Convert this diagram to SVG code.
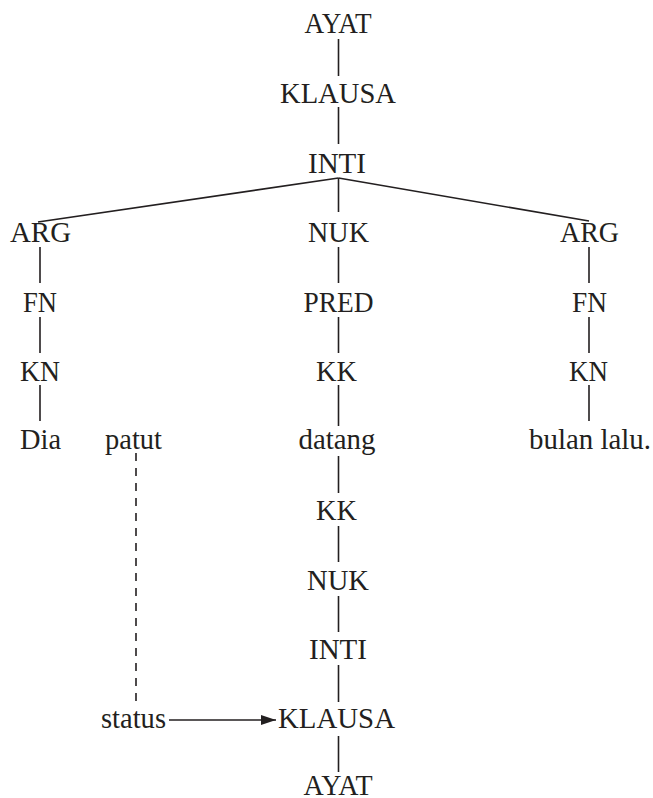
<svg xmlns="http://www.w3.org/2000/svg" width="653" height="798" viewBox="0 0 653 798">
  <style>
    .edge { stroke: #231f20; stroke-width: 1.6; fill: none; }
    .dash { stroke: #231f20; stroke-width: 1.6; fill: none; stroke-dasharray: 8 7; }
  </style>
  <defs>
    <marker id="arrowhead" viewBox="0 0 15 10" refX="15" refY="5" markerWidth="15" markerHeight="10" markerUnits="userSpaceOnUse" orient="auto">
      <path d="M0,0 L15,5 L0,10 Z" fill="#231f20"/>
    </marker>
  </defs>
  <rect width="653" height="798" fill="#ffffff"/>

  <g id="connectors">
    <!-- centre column -->
    <line class="edge" x1="338.5" y1="39" x2="338.5" y2="76"/>
    <line class="edge" x1="338.5" y1="107" x2="338.5" y2="144"/>
    <line class="edge" x1="338.5" y1="178" x2="38" y2="222"/>
    <line class="edge" x1="338.5" y1="178" x2="589" y2="221"/>
    <line class="edge" x1="338.5" y1="178" x2="338.5" y2="212"/>
    <line class="edge" x1="338.5" y1="247" x2="338.5" y2="283"/>
    <line class="edge" x1="338.5" y1="317" x2="338.5" y2="353"/>
    <line class="edge" x1="338.5" y1="385" x2="338.5" y2="426"/>
    <line class="edge" x1="338.5" y1="456" x2="338.5" y2="493"/>
    <line class="edge" x1="338.5" y1="526" x2="338.5" y2="562"/>
    <line class="edge" x1="338.5" y1="596" x2="338.5" y2="632"/>
    <line class="edge" x1="338.5" y1="665" x2="338.5" y2="702"/>
    <line class="edge" x1="338.5" y1="736" x2="338.5" y2="772"/>
    <!-- left column -->
    <line class="edge" x1="40" y1="247" x2="40" y2="283"/>
    <line class="edge" x1="40" y1="317" x2="40" y2="353"/>
    <line class="edge" x1="40" y1="385" x2="40" y2="421"/>
    <!-- right column -->
    <line class="edge" x1="589" y1="247" x2="589" y2="283"/>
    <line class="edge" x1="589" y1="317" x2="589" y2="353"/>
    <line class="edge" x1="589" y1="385" x2="589" y2="421"/>
    <!-- patut to status, status to KLAUSA -->
    <line class="dash" x1="136" y1="453" x2="136" y2="708"/>
    <line class="edge" x1="169" y1="720" x2="276" y2="720" marker-end="url(#arrowhead)"/>
  </g>

  <g font-family="Liberation Serif" font-size="29" fill="#231f20" text-anchor="middle" lengthAdjust="spacingAndGlyphs">
    <g id="n-ayat-top"><text font-family="Liberation Serif" x="338" y="33" textLength="67" lengthAdjust="spacingAndGlyphs">AYAT</text></g>
    <g id="n-klausa-top"><text font-family="Liberation Serif" x="338" y="103" textLength="116" lengthAdjust="spacingAndGlyphs">KLAUSA</text></g>
    <g id="n-inti-top"><text font-family="Liberation Serif" x="337" y="173" textLength="58" lengthAdjust="spacingAndGlyphs">INTI</text></g>

    <g id="n-arg-left"><text font-family="Liberation Serif" x="40.5" y="242" textLength="61" lengthAdjust="spacingAndGlyphs">ARG</text></g>
    <g id="n-nuk-top"><text font-family="Liberation Serif" x="338.5" y="242" textLength="61" lengthAdjust="spacingAndGlyphs">NUK</text></g>
    <g id="n-arg-right"><text font-family="Liberation Serif" x="589.5" y="242" textLength="59" lengthAdjust="spacingAndGlyphs">ARG</text></g>

    <g id="n-fn-left"><text font-family="Liberation Serif" x="40" y="312" textLength="34" lengthAdjust="spacingAndGlyphs">FN</text></g>
    <g id="n-pred"><text font-family="Liberation Serif" x="338.5" y="312" textLength="70" lengthAdjust="spacingAndGlyphs">PRED</text></g>
    <g id="n-fn-right"><text font-family="Liberation Serif" x="589.5" y="312" textLength="35" lengthAdjust="spacingAndGlyphs">FN</text></g>

    <g id="n-kn-left"><text font-family="Liberation Serif" x="40" y="381" textLength="40" lengthAdjust="spacingAndGlyphs">KN</text></g>
    <g id="n-kk-top"><text font-family="Liberation Serif" x="336.5" y="381" textLength="41" lengthAdjust="spacingAndGlyphs">KK</text></g>
    <g id="n-kn-right"><text font-family="Liberation Serif" x="588.5" y="381" textLength="39" lengthAdjust="spacingAndGlyphs">KN</text></g>

    <g id="n-dia"><text font-family="Liberation Serif" x="40.5" y="449" textLength="41" lengthAdjust="spacingAndGlyphs">Dia</text></g>
    <g id="n-patut"><text font-family="Liberation Serif" x="133.5" y="449" textLength="57" lengthAdjust="spacingAndGlyphs">patut</text></g>
    <g id="n-datang"><text font-family="Liberation Serif" x="337" y="449" textLength="77" lengthAdjust="spacingAndGlyphs">datang</text></g>
    <g id="n-bulan-lalu"><text font-family="Liberation Serif" x="590" y="449" textLength="122" lengthAdjust="spacingAndGlyphs">bulan lalu.</text></g>

    <g id="n-kk-bottom"><text font-family="Liberation Serif" x="336.5" y="520" textLength="41" lengthAdjust="spacingAndGlyphs">KK</text></g>
    <g id="n-nuk-bottom"><text font-family="Liberation Serif" x="338" y="590" textLength="62" lengthAdjust="spacingAndGlyphs">NUK</text></g>
    <g id="n-inti-bottom"><text font-family="Liberation Serif" x="338" y="659" textLength="58" lengthAdjust="spacingAndGlyphs">INTI</text></g>
    <g id="n-status"><text font-family="Liberation Serif" x="133.5" y="728" textLength="65" lengthAdjust="spacingAndGlyphs">status</text></g>
    <g id="n-klausa-bottom"><text font-family="Liberation Serif" x="336.5" y="728" textLength="117" lengthAdjust="spacingAndGlyphs">KLAUSA</text></g>
    <g id="n-ayat-bottom"><text font-family="Liberation Serif" x="338" y="795" textLength="69" lengthAdjust="spacingAndGlyphs">AYAT</text></g>
  </g>
</svg>
